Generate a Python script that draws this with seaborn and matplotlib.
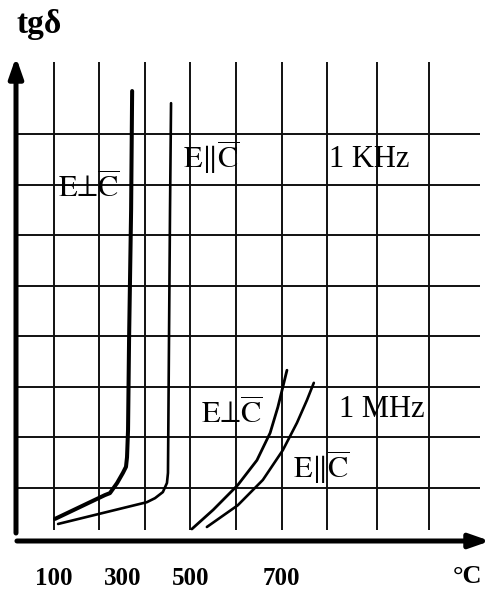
import numpy as np
import pandas as pd
import matplotlib
matplotlib.use("Agg")
import matplotlib.pyplot as plt
import seaborn as sns

# ---------------- data ----------------
khz_perp_T = [103, 249, 264, 285, 302, 311, 314, 317, 320, 326, 329]
khz_perp_tg = [0.39, 0.86, 0.90, 1.10, 1.30, 1.42, 1.61, 2.15, 3.93, 6.50, 8.85]
khz_par_T = [112, 372, 396, 419, 431, 434, 435, 437, 440, 443]
khz_par_tg = [0.29, 0.72, 0.80, 0.92, 1.10, 1.30, 2.15, 3.93, 6.50, 8.61]
mhz_perp_T = [503, 550, 604, 646, 675, 692, 703, 712]
mhz_perp_tg = [0.19, 0.57, 1.06, 1.55, 2.09, 2.60, 3.00, 3.33]
mhz_par_T = [536, 604, 659, 703, 734, 756, 771]
mhz_par_tg = [0.23, 0.66, 1.16, 1.75, 2.29, 2.74, 3.08]

tick_T = [100, 300, 500, 700]
tick_labels = ["100", "300", "500", "700"]
grid_T = [100, 233, 367, 500, 600, 700, 800, 910, 1025]
grid_levels = [1, 2, 3, 4, 5, 6, 7, 8]

perp_label = r"$\mathrm{E}⊥\overline{\mathrm{C}}$"
par_label = r"$\mathrm{E}∥\overline{\mathrm{C}}$"

# ---------------- style ----------------
sns.set_theme(style="white")
plt.rcParams["font.family"] = ["Liberation Serif", "DejaVu Serif"]
plt.rcParams["mathtext.fontset"] = "stix"
plt.rcParams["text.color"] = "black"
plt.rcParams["axes.labelcolor"] = "black"
plt.rcParams["xtick.color"] = "black"
plt.rcParams["ytick.color"] = "black"

frames = []
for name, T, tg in [("khz_perp", khz_perp_T, khz_perp_tg),
                    ("khz_par", khz_par_T, khz_par_tg),
                    ("mhz_perp", mhz_perp_T, mhz_perp_tg),
                    ("mhz_par", mhz_par_T, mhz_par_tg)]:
    frames.append(pd.DataFrame({"T": T, "tg": tg, "curve": name}))
df = pd.concat(frames, ignore_index=True)

fig = plt.figure(figsize=(4.91, 5.94), dpi=100)
ax = fig.add_axes([16 / 491, 53 / 594, 474 / 491, 484 / 594])

# piecewise-linear temperature axis as drawn in the original
T_anchor = [-2000, 100, 500, 700, 3000]
u_anchor = [-15.75, 0, 3, 5, 28]
fwd = lambda t: np.interp(t, T_anchor, u_anchor)
inv = lambda u: np.interp(u, u_anchor, T_anchor)
ax.set_xscale("function", functions=(fwd, inv))
ax.set_xlim(-11.3, 1158.2)
ax.set_ylim(-0.047, 9.523)

# grid
ax.vlines(grid_T, 0.17, 9.42, color="#111111", lw=1.4, zorder=1)
ax.hlines(grid_levels, -8, 1136, color="#111111", lw=1.4, zorder=1)

widths = {"khz_perp": 2.9, "khz_par": 1.9, "mhz_perp": 2.0, "mhz_par": 1.9}
for name, sub in df.groupby("curve", sort=False):
    sns.lineplot(data=sub, x="T", y="tg", sort=False, estimator=None,
                 color="black", lw=widths[name], ax=ax, zorder=3)

# labels on the chart
fs = 22
ax.text(111.7, 6.735, perp_label, fontsize=fs, ha="left", va="baseline")
ax.text(478, 7.33, par_label, fontsize=fs, ha="left", va="baseline")
ax.text(804, 7.354, "1 KHz", fontsize=fs, ha="left", va="baseline")
ax.text(523, 2.28, perp_label, fontsize=fs, ha="left", va="baseline")
ax.text(826, 2.41, "1 MHz", fontsize=fs, ha="left", va="baseline")
ax.text(725, 1.19, par_label, fontsize=fs, ha="left", va="baseline")

# axes arrows
for spine in ax.spines.values():
    spine.set_visible(False)
arrow_style = "-|>,head_length=0.8,head_width=0.28"
ax.annotate("", xy=(0, 1), xytext=(0, 0.0165), xycoords="axes fraction",
            arrowprops=dict(arrowstyle=arrow_style, lw=3.6, color="black",
                            shrinkA=0, shrinkB=0, mutation_scale=15),
            annotation_clip=False)
ax.annotate("", xy=(1, 0), xytext=(0.002, 0), xycoords="axes fraction",
            arrowprops=dict(arrowstyle=arrow_style, lw=3.6, color="black",
                            shrinkA=0, shrinkB=0, mutation_scale=15),
            annotation_clip=False)

ax.set_yticks([])
ax.set_xticks(tick_T)
ax.set_xticklabels(tick_labels, fontsize=18, fontweight="bold")
ax.xaxis.set_minor_locator(matplotlib.ticker.NullLocator())
ax.tick_params(axis="x", length=0, pad=19)

ax.set_xlabel("°C", fontsize=19, fontweight="bold")
ax.xaxis.set_label_coords(0.9525, -0.0868)
ax.xaxis.label.set(ha="center", va="baseline")
ax.set_ylabel("tgδ", fontsize=24, fontweight="bold", rotation=0)
ax.yaxis.set_label_coords(0.0485, 1.0496)
ax.yaxis.label.set(ha="center", va="baseline")

fig.savefig("out.png", dpi=100)
